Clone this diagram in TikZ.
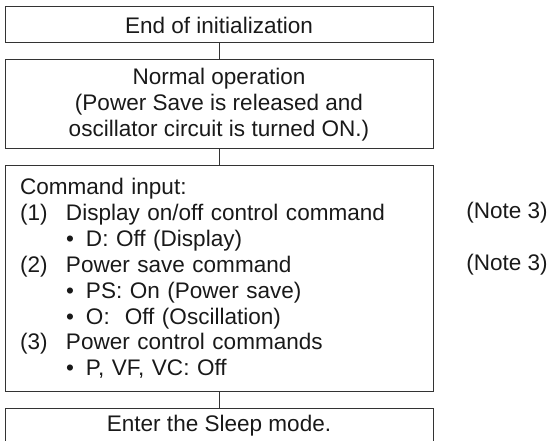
\documentclass[tikz,border=0pt]{standalone}
\usepackage{fontspec}
\setmainfont{Liberation Sans}

\newcommand{\itm}[2]{\makebox[34.5pt][l]{#1}#2}
\newcommand{\bul}[1]{\hspace*{34.5pt}\makebox[15pt][l]{\textbullet}#1}

\begin{document}
\begin{tikzpicture}[x=0.75pt,y=0.75pt,
  box/.style={draw=black!80,line width=0.75pt,minimum width=321pt,text=black!90,
    font=\fontsize{16.9}{19.4}\selectfont,align=center},
  note/.style={anchor=west,inner sep=0pt,text=black!90,font=\fontsize{16.9}{19.4}\selectfont}]
\useasboundingbox (0,0) rectangle (552,-441);
\node[box,minimum height=27pt] (init) at (219,-25) {End of initialization};
\node[box,minimum height=66.75pt] (norm) at (219,-104.5) {Normal operation\\(Power Save is released and\\oscillator circuit is turned ON.)};
\node[box,minimum height=168.75pt,text width=298.5pt,inner xsep=11.25pt,align=left] (cmd) at (219,-278.5) {Command input:\\
\itm{(1)}{Display on/off control command}\\
\bul{D: Off (Display)}\\
\itm{(2)}{Power save command}\\
\bul{PS: On (Power save)}\\
\bul{O:\ \ Off (Oscillation)}\\
\itm{(3)}{Power control commands}\\
\bul{P, VF, VC: Off}};
\node[box,minimum height=27pt] (sleep) at (219,-426) {Enter the Sleep mode.};
\node[note] (n1) at (466,-213) {(Note 3)};
\node[note] (n2) at (466,-264.5) {(Note 3)};
\draw[draw=black!80,line width=0.75pt] (init) -- (norm);
\draw[draw=black!80,line width=0.75pt] (norm) -- (cmd);
\draw[draw=black!80,line width=0.75pt] (cmd) -- (sleep);
\end{tikzpicture}
\end{document}
